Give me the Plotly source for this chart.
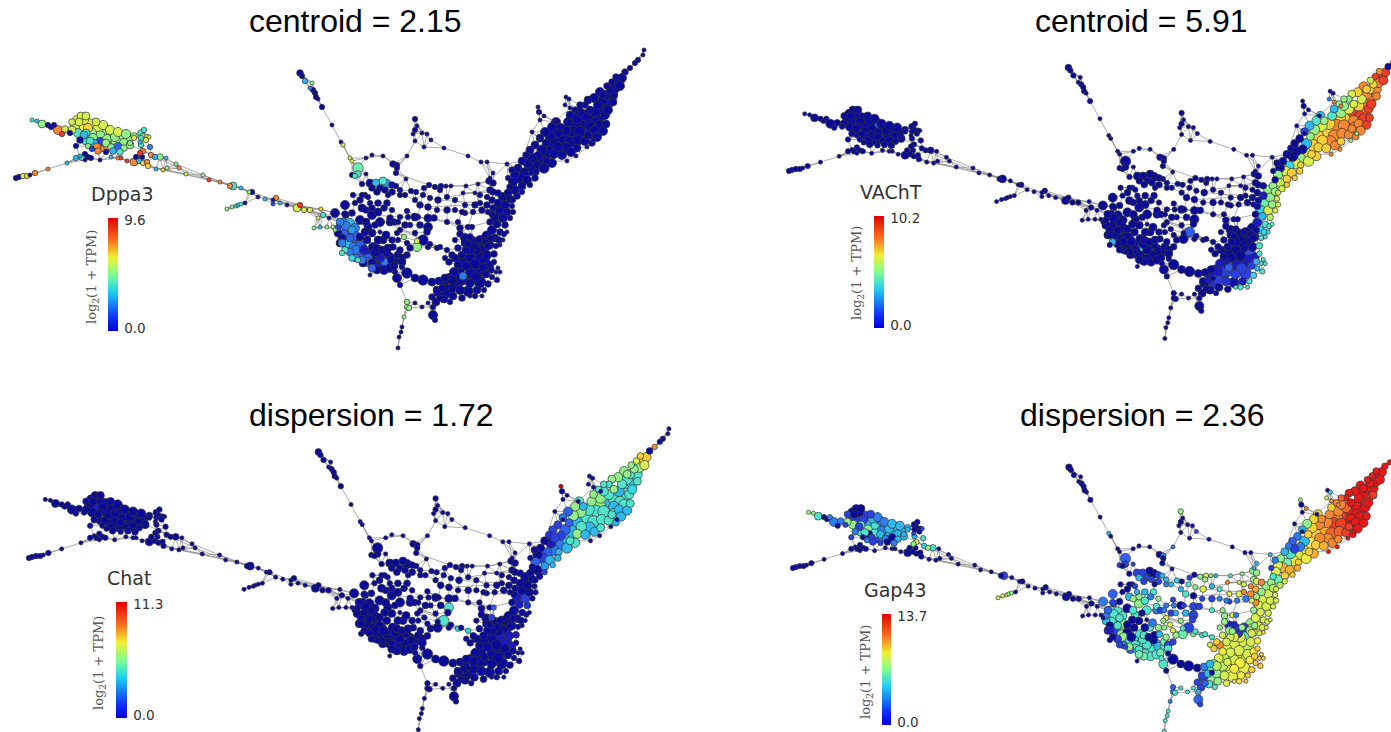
import numpy as np
import plotly.graph_objects as go

# Shared graph layout, in units of the first panel; one inner list per region of the graph
NODE_X = [
 [32,37,42,48,51,54,58,62,65,70],
 [81,77,84,75,82,90,94,72,78,86,92,98,105,111,100,93,107,115,122,128,116,124,130,100,86,80,76,101,94,108,118,111,98,88,92,106,124,130,84,88],
 [80,88,85,85,91,100,111,118,121,127,134,136,142,139,143,147,148,156,163,76,82],
 [144,141,143,147,141,146,149,140,134],
 [141,150,143,151,140,160,155,166,176,167,179,186,203,209,220,233,230,241,252,249,258,265,273,276,280,273,287,297,300,304,310,321,323],
 [227,232,236,238,241,245],
 [16,19,23,27,30,35,48,67],
 [300,302,305,312,310,313,315,316,318,322,332,341,343,350,352],
 [358,358,352,355,372,383,393,397,397,396,366,366,362],
 [370,376,383,387,372,365,380,392,396,406,411,416,424,429,435,441,446,451,466,478,489,493,490,493],
 [415,417,415,413,415,422,427,431,424,407,444,468,481,487,493,507,490],
 [538,539,540,544,555,532,540,566,569,565,570,577,587,576,567,593],
 [644,643,638,635,630,625],
 [622,618,615,620,610,606,612,603,608,603,598,595,600,590,585,590,596,605,585,580,577,583,590,595,575,568,572,565,580,588,560,557,563,570,550,553,546,558,542,548,554,538,532,540,547,535,528,522,530,524,536,518,520,527,515,513,522,510,515,508,503,498,510],
 [505,498,512,500,507,493,495,503,510,497,505,490,492,500,487,495,503],
 [483,474,466,490,496,500,478,487,470,494,483,475,466,490,494,498,478,470,460,486,492,497,462,470,480,488,456,463,452,460,468,477,484,446,453,437,440,470,450,462,455,462,449,458],
 [353,362,345,355,368,370,378,388,387,400,405,415,423,430,428,438,447,463,465,475,480,455,447,473,465,437,428,434,428,447,447,460,460,468,472,470,465,415,418,408,400,407,392,390,394,400,415,423,428,437,407,404,417,417,398],
 [397,407,415,423,432,439,445,447,438,390,398,407,402,395],
 [335,343,350,355,347,338,342,348,345,357,362,367,358,352,358,372,379,385,363,370,377,367,373,382,387,372,380,390,368,372,383,380,377,340,360,342,333,327,320,314,335,329,318,397,393,352,362,375,360,350,365,375,362,346],
 [400,407,407,409,415,422,428,433,433,435,404,402,401,399,398],
 [600,594,588,612,616,607,600,606,603,597,592,590,585,578,577,566,571,562,570,575,580,556,552,545,540,535,530,526,552,544,535,530,512,508,517,522,613,608,603],
 [472,480,465,458,488,468,491,452,445,470,476,462,472,484,454,449,444,476,491,452,458,475,482,444,432,436,443,496,500],
 [492,488,486,513,513,507,499,504,488,478],
 [340,346,352,338,344,350,356,342,348,354,360,350,356,362,368,356,362,368,374,380,364,370,376,382,388,372,378,384,390,394,366,372,378,384,366,378,386,392,398,402],
 [86,96,103,110,118,126,72,79,90,97,106,113,120,134],
 [360,345,377,385,392,400,420,440,455,462,475,482,487,492,480,487,420,410,405,398,430,440,458,455,427,410,400,392,402],
]
NODE_Y = [
 [120,121,124,125,127,125,130,134,129,133],
 [116,120,120,127,126,124,127,130,133,133,133,129,130,134,136,138,139,137,137,139,142,143,145,142,141,140,146,146,143,146,147,147,151,146,149,152,148,143,135,128],
 [156,157,154,160,158,160,157,158,158,161,162,157,157,161,163,162,166,169,170,158,158],
 [130,133,136,137,138,140,137,142,138],
 [145,147,151,155,153,157,157,158,164,168,168,174,175,180,182,186,186,188,192,192,197,199,200,198,203,204,205,208,205,210,210,209,215],
 [209,207,206,205,204,203],
 [178,177,176,176,175,173,169,163],
 [73,76,81,83,88,90,93,97,99,107,125,142,145,158,161],
 [168,174,175,176,155,156,164,165,168,173,158,174,184],
 [183,183,181,184,188,195,188,185,186,179,191,192,188,185,187,186,186,186,186,184,181,183,190,192],
 [119,126,130,134,141,133,134,140,147,156,148,156,162,162,173,164,178],
 [107,112,120,116,122,132,140,97,99,105,108,112,147,156,161,140],
 [50,55,60,63,68,72],
 [78,82,88,86,90,95,95,100,102,108,105,112,115,110,105,118,122,115,115,112,118,123,127,130,125,122,132,130,132,135,127,132,138,142,136,143,143,147,150,152,154,156,158,160,161,165,163,161,170,173,172,168,178,180,175,182,186,187,190,193,197,193,199],
 [205,203,206,210,212,208,217,218,218,224,225,222,230,232,236,238,240],
 [248,246,250,245,246,245,255,255,258,254,262,264,266,265,262,268,272,274,272,274,277,280,280,283,282,284,285,276,288,290,291,290,290,293,296,290,298,296,302,298,258,255,262,265],
 [195,195,205,203,197,203,203,195,203,195,195,200,195,198,207,200,197,193,205,193,203,210,210,212,213,210,218,218,227,222,250,228,234,227,227,237,238,217,217,217,217,211,210,218,222,230,233,240,247,248,243,237,247,241,240],
 [278,273,278,280,282,281,278,287,292,257,260,255,267,272],
 [213,223,223,228,230,233,238,246,250,242,248,253,253,258,260,263,263,263,263,275,270,240,247,253,253,215,222,222,227,233,240,232,248,243,237,253,227,227,227,228,230,218,218,233,247,213,208,225,220,236,232,255,255,215],
 [285,302,307,308,303,307,303,307,315,320,317,327,332,337,348],
 [92,98,100,82,77,86,125,124,131,137,143,134,141,140,148,148,152,155,115,110,105,122,127,132,138,145,150,155,163,168,178,185,170,178,196,192,102,110,95],
 [240,240,243,248,240,244,238,255,258,250,250,262,268,268,272,278,284,277,270,280,280,296,296,299,297,302,288,272,272],
 [200,212,243,212,200,232,240,234,246,240],
 [222,226,230,228,234,238,236,243,243,247,245,252,250,255,258,258,260,262,258,258,250,254,252,250,248,268,267,270,268,266,222,208,212,208,210,240,235,240,255,258],
 [116,122,125,130,132,134,122,122,141,147,143,151,152,136],
 [200,214,192,190,192,190,205,190,200,212,205,210,205,214,195,197,225,225,225,222,244,247,222,240,232,248,250,260,262],
]
NODE_SIZE = [
 [3,3,6,4,4,4,7,4,5,4],
 [6,7,7,7,11,8,9,6,7,6,7,8,9,7,8,7,7,7,10,7,8,7,6,7,6,5,4,9,6,7,7,5,5,4,4,4,5,4,6,7],
 [3,4,4,3,4,3,3,3,3,3,6,4,4,4,4,4,4,3,3,4,4],
 [4,5,4,4,4,4,3,3,4],
 [4,4,4,4,4,5,4,3,3,3,3,3,3,3,3,6,4,3,4,3,3,3,3,4,3,3,3,6,4,4,4,3,4],
 [3,3,3,3,3,3],
 [4,4,4,4,3,4,3,3],
 [5,4,4,3,3,4,4,4,3,4,3,3,3,3,3],
 [8,5,4,4,3,3,5,4,4,4,3,3,4],
 [6,6,6,7,5,4,5,5,4,3,4,4,4,4,4,4,3,3,3,3,5,5,5,5],
 [4,3,4,3,3,3,3,3,3,3,3,3,3,3,3,3,3],
 [3,4,3,3,3,3,3,3,3,3,3,3,3,3,3,3],
 [3,3,4,4,4,5],
 [7,9,8,7,6,7,9,8,10,12,7,8,10,6,5,10,8,7,8,7,9,11,8,7,10,7,10,9,9,6,6,9,10,9,8,10,6,8,8,10,7,7,7,10,6,9,8,6,9,8,5,6,8,7,7,7,6,5,7,6,7,5,6],
 [7,6,4,8,6,5,7,7,4,6,5,5,7,5,8,6,3],
 [9,7,6,6,4,3,8,7,8,5,11,8,7,6,4,3,9,8,7,6,4,4,8,7,9,5,9,6,7,7,8,6,4,8,6,6,5,3,4,5,6,6,5,6],
 [4,4,7,4,4,4,5,4,5,4,4,4,4,4,5,5,4,3,4,3,4,4,5,4,4,4,6,5,7,4,4,5,5,4,4,5,7,6,4,4,4,4,4,5,5,4,4,8,4,4,4,4,7,4,4],
 [7,8,6,8,6,6,6,4,7,7,6,5,4,4],
 [7,8,7,7,7,6,6,8,5,7,8,8,7,5,4,6,9,7,6,3,6,6,7,8,6,7,7,6,6,6,6,3,6,6,6,4,3,3,3,3,3,3,3,4,5,5,6,5,7,7,6,7,7,5],
 [4,4,4,4,3,3,3,4,7,4,3,3,3,3,3],
 [7,7,6,5,5,5,8,6,7,7,5,8,7,8,6,9,7,7,6,5,5,7,7,7,6,6,6,5,7,8,5,4,5,4,5,4,6,7,6],
 [6,7,6,5,6,5,5,5,4,7,8,8,9,8,7,7,7,8,5,7,8,4,3,6,5,6,6,3,3],
 [5,4,6,4,4,3,5,4,6,5],
 [6,7,6,5,7,6,7,6,7,7,7,6,7,7,7,6,6,7,8,7,7,8,7,6,6,6,7,7,7,6,6,5,6,5,5,6,6,5,6,6],
 [6,6,7,7,7,7,5,6,6,6,6,5,5,5],
 [5,5,5,5,5,4,5,4,4,4,5,5,5,5,4,4,5,4,5,4,4,4,4,4,5,5,5,7,6],
]

# Expression per node, on a 0-10 share of each gene's maximum
DPPA3 = [
 [4,3,5,0,0,0,8,9,6,0],
 [6,6,6,6,6.5,6,6,6,4,4,5,6,5,5,5,5,5,5,5,5,5,5,5,1,4,0,0,8,3,8,1.5,5,8,5,1,0,5,5,3,7],
 [3,0,0,0,0,0,3,8,9,9,8,0,0,3,7,8,7,3,7,3,4],
 [4,4,5,6,4,6,6,3,6],
 [4,2,8,8,9,5,3,3,5,5,8,6,5,9,8,4,8,3,0,5,0,3,0,8,3,1,0,6,9,6,6,7,4],
 [5,5,4,3,4,0],
 [0,0,6,7,0,8,8,3],
 [0,0,3,5,2,0,0,0,0,0,0,0,6,6,6],
 [4.5,4,0,4,0,0,0,0,0,0,0,0,0],
 [0,3,4,2.5]+[0]*20,
 [0]*17,
 [0]*16,
 [0]*6,
 [0]*63,
 [0]*17,
 [0]*27+[2]+[0]*16,
 [0]*51+[5,5,6,0],
 [0]*14,
 [0,2,3,2,2,0,0,3.5,4,1.5,2,1.5,1,3.5,4,0,2,2,0,0,0,0,0,0,0,0,0,0,0,0,0,0,0,0,0,4,5,5,3,5,5,0,6,0,0,0,0,0,0,0,0,0,0,0],
 [0,5,5,5,0,0,0,0,0,0,5,0,0,0,0],
 [0]*39,
 [0]*29,
 [0]*10,
 [2,2,2.5,1,1.5,1.5,1.5,2,3,2,1.5,2,2,1.5,1.5,2,2,1.5,1,0.5,0.5,0.5,0,0,0,1.5,0.5,0,0,0]+[0]*10,
 [6,6,6,6,6,5,6,6,4,8,5,3,4,5],
 [0]*29,
]
VACHT = [
 [0]*10,
 [0]*12+[1.5]+[0]*27,
 [0]*21,
 [0]*9,
 [0]*33,
 [0]*6,
 [0]*8,
 [0]*15,
 [0]*13,
 [0]*24,
 [0]*17,
 [0,0,0,0,0,0,0,0,0,2,8,8,5,8,8,5],
 [0]*6,
 [9,9,8,9,7,7,8,8,8,8,6,7,8,6,5,9,9,9,6,5,5,7,8,8,7,4,8,7,8,8,5,6,7,8,5,7,5,7,3,7,7,0,0,6,7,5,0,0,6,3.5,7,0,6,7,0,5,7,0,5.5,5,5,0,5],
 [5,0.5,6,4.5,5,0,3.5,6,6,3,5.5,0,0.5,4,0,3.5,4],
 [0,0,0,0.5,4,4,0,0,0,4,1.2,0,0,0.5,4,4,0.5,0.5,0.3,1,3,4,1,1,1,3.5,0.8,1.5,1,0.8,0.2,0.5,4,0.8,0,0,0,4,0,0,0,0,0,0],
 [0]*47+[1.5]+[0]*7,
 [0]*14,
 [0]*7+[1.2,3]+[0]*7+[3.5]+[0]*34+[3.5]+[0]*2,
 [0]*15,
 [8,7,6,9,8,6,9,9,9,8,8,8,8,8,7,8,8,7,3,5,5,3,4,3,1,0,0,0,7,6,7,7,0,0,6,7,8,9,7],
 [0,0,0,0,0.5,0,0,0,0,0,0,0,0.5,0.5,0.5,0.5,0.5,1,3,0.5,1,4,4,0,0,0,0.5,4,4],
 [0,0,0,6,6,4.5,3.5,4,0,0],
 [0]*40,
 [0]*14,
 [0]*29,
]
CHAT = [
 [0]*10,
 [0,0,0,0,0.6]+[0]*35,
 [0]*21,
 [0]*9,
 [0]*33,
 [0]*6,
 [0]*8,
 [0]*15,
 [0]*13,
 [0]*24,
 [0]*17,
 [10]+[0]*15,
 [0,0,0,0,8,0],
 [7,7,5,6,5,4,4,4,3.5,3.5,4,3,4,5,4,4,4,4,4,4,5,3,3,3,5,5,4,4,4,4,3,5,4,4,5,3,1.5,4,1.5,3,5,1,1,3,4,2,0.5,0,2,1.5,3,0,1,3,0,1.5,2.5,0,0,0,0,0,0],
 [0,0,0,0,0,0,0.5,1,0,0.5,0.8,0,0,0,0,0,0],
 [0,0,0,0,0,0,0.5,0.5,0,0.5,0.5,0,0,0.5,0,0]+[0]*28,
 [0]*28+[4,0,3.5,0,0,0,1.5,1]+[0]*11+[4,0,3.5]+[0]*5,
 [0]*14,
 [0]*54,
 [0]*15,
 [5,5,5,6,7,5,4,4,3,3,3,4,4,4,4,3,3,3,5,4,4,4,5,1.5,2,1,1,0.8,4,3,3,3,0,0,0,1,4,3.5,5],
 [0]*29,
 [0]*10,
 [0]*40,
 [0]*14,
 [0]*29,
]
GAP43 = [
 [5,5,4,0,0,2,2,0,2,1],
 [0,0,0,1,1,1,2,5,5,4,3,3,2,3,4,5,2,3,3,3,3,3,3,4,4,2,1,1,0,2,0,2,1,0,2,1,3,3,1,1],
 [0]*21,
 [0,0,0,0,0,0,1,1,3],
 [3,4,6,3.5,5,4,5,0,0,0,0,0,0,0,0,1]+[0]*17,
 [6,6,6,5,5,0],
 [0]*8,
 [0,0,0,0,0,0,0,0,0,0,0,3,0,0,0],
 [1.5,1,1,0,0,0,0,2,0,0,0,1,0],
 [1,1,0,0,3,0,1,1,3,0,3.5,0,1,0,5,6,5,3,4,5,5,5,5,6],
 [5,0,0,0,0,0,0,1,0,2,0,0,0,0,3,3,3],
 [5,0,0,8,0,0,0,0,3.5,6,8,8,9.5,9.5,9.5,9.5],
 [9.5]*6,
 [9.5,9.5,9.5,9.5,9.5,9.5,9.5,9.5,9,9,9.5,9.5,9.5,9.5,9.5,9.5,9.5,9.5,8.5,8,8,9,9.5,9.5,8,8,9,8,9,9,8,8,7.5,8.5,7,7,7,8,3,6.5,7,2,1,6,7,6,4,3,6.5,4.5,7,5,7.5,7.5,6,6,7,4,4.5,5,5,8,5.5],
 [6,5,6,6,6,5,6,6,6,6,6,5,6,6,5,6,6],
 [4,0.8,6,6,6,7,6,6,6,6.5,5.5,6,6,6.5,7,7,6,6,5.5,6.5,7,7,6.5,6.5,6.2,7,5,6,5,6,6.2,6.5,7,5,5,1,1.5,6.5,4,6,8,6,7,6.5],
 [0,0,1.5,0,1,3,3,0,4,2,3,3,4,5,0,6,3,8,6,6,8,2,1,2,1,1,1,1,1,4,4,5,5,6,2,0.6,0.6,0,1,2,2,1,5,4,1,6,5,1,4.5,4,6,6,4.5,4,5],
 [4,0,0,0,0,2,3,0,1,3,4,1,0,4],
 [2,4,4,4,4,3,0,1,0,5,5,4,5,1,1,4,2.5,4,1.5,0,4.5,0,4,4,0,5,4,2,4,0,4,0,4,0.5,0,0,0,0,0,0,0,0,0,5,3,0,3,0,0,0,0,4,4.5,1],
 [0,1.5,2,4,4,4,4,3,1.5,1,2,4,4,4,4],
 [9.5,9.5,9.5,9.5,9.5,9.5,9.5,9.5,9.5,9.5,9.5,9.5,9,8.5,8,8,8,7.5,7,8,8.5,7,7,5,3,2,1.5,2,7.5,6.5,7.5,7,2,1,5.5,6,9,9.5,9.5],
 [0.8,0.8,5,6,6,5,5,7,6,6,6,6,6,6,6,5,4.5,6.5,7,5.5,5.5,6.5,7,4,1,1,3,7,7],
 [7.5,6,5,6,6,6,6,6,6,5],
 [1.5,4,4,2,4,4,5,0.5,1,5,0,1,5,4,4,2,5,4,4,4,0,4,4,0,0,4.5,4,4,4,4.5,4,5,4,2,5,0,2,5,4.5,1],
 [0,1,2,2,3,3,1,0,4,1,3,0,2,3],
 [0,1,1,1,1,3,4,5,4,2,6,2,8,8,6,8,3,3,1,2,4,4,5,5,1,5,5,3,4],
]

# Longer graph links, chains of layout positions (each snaps to its closest node)
LONG_LINKS = [
 [(130,145),(176,164),(203,175),(233,186),(252,192),(273,200),(300,205),(323,215)],
 [(143,151),(179,168),(209,180),(233,186)],
 [(148,166),(186,174),(220,182),(241,188),(258,197)],
 [(163,170),(209,180)],
 [(134,162),(163,170),(186,174)],
 [(16,178),(35,173),(48,169),(67,163),(80,157),(100,160),(118,158),(134,162)],
 [(276,198),(300,205),(335,213)],
 [(273,200),(310,210),(343,223)],
 [(287,205),(321,209),(335,213)],
 [(297,208),(323,215),(350,223)],
 [(280,203),(304,210),(343,223)],
 [(245,203),(258,197),(241,188)],
 [(322,107),(332,125),(341,142),(350,158),(358,168)],
 [(358,168),(366,158),(372,155),(383,156),(393,164),(396,173),(406,179)],
 [(407,156),(415,141),(424,147),(444,148),(468,156),(481,162),(487,162),(507,164),(522,161)],
 [(397,168),(407,156)],
 [(396,173),(429,185),(466,186),(489,181),(507,164)],
 [(431,140),(444,148)],
 [(540,140),(528,163)],
 [(532,132),(540,120),(555,122),(570,108)],
 [(532,132),(522,161)],
 [(540,140),(532,132)],
 [(593,140),(587,147),(576,156),(567,161),(547,161)],
 [(478,184),(490,190),(498,193)],
 [(463,193),(493,192)],
 [(428,207),(465,205),(498,203)],
 [(415,217),(447,222),(468,227),(490,222)],
 [(400,230),(447,250),(474,246)],
 [(390,222),(423,240)],
 [(402,267),(400,285),(407,302),(404,317),(402,327),(401,332),(399,337),(398,348)],
 [(433,307),(438,292)],
 [(428,303),(433,315)],
 [(447,197),(490,190)],
 [(438,200),(480,203)],
 [(394,222),(428,227)],
 [(372,215),(400,217),(428,218)],
 [(392,210),(387,203),(378,203)],
 [(400,230),(415,233),(423,240)],
 [(460,228),(470,237),(474,246)],
 [(465,213),(492,214)],
 [(473,212),(468,227)],
 [(490,222),(492,230)],
 [(390,218),(407,243),(437,248)],
 [(404,237),(447,250)],
]

PANEL_GENES = ["Dppa3", "VAChT", "Chat", "Gap43"]
PANEL_TITLES = ["centroid = 2.15", "centroid = 5.91", "dispersion = 1.72", "dispersion = 2.36"]
PANEL_MAX = [9.6, 10.2, 11.3, 13.7]
NODE_SCALE = [[0,'#0a0a9a'],[0.05,'#1a1ac0'],[0.12,'#3050f0'],[0.25,'#2a9af0'],[0.35,'#30d8e8'],[0.45,'#70f0b0'],
              [0.55,'#b8f060'],[0.65,'#f5ee40'],[0.75,'#fab030'],[0.85,'#f86030'],[0.95,'#e81818'],[1,'#c00000']]
BAR_SCALE = [[0,'#0000e0'],[0.12,'#1030ff'],[0.35,'#20d0f0'],[0.5,'#80ff90'],[0.65,'#f0f030'],[0.8,'#ff7020'],[1,'#e00000']]

W, H = 1391, 732
# panel placement: scale and origin of the layout, window in pixels
PANELS = [
 dict(ax=1.0,  x0=15, px=15,  ay=1.0,  y0=178, py=178, box=(0,700,40,372),   title=(355,21),  gene=(122,194), bar=(108,118,218,331), rot=(92,277)),
 dict(ax=0.984,x0=15, px=788, ay=0.985,y0=178, py=171, box=(760,1391,40,360),title=(1141,21), gene=(891,192), bar=(874,884,216,328), rot=(857,273)),
 dict(ax=1.019,x0=15, px=28,  ay=1.01, y0=178, py=558, box=(0,720,420,732),  title=(371,415), gene=(128.5,578),bar=(116,127,602,718),rot=(99,663)),
 dict(ax=0.972,x0=15, px=792, ay=0.96, y0=178, py=568, box=(770,1391,440,732),title=(1142,415),gene=(895,590), bar=(882,891,614,725),rot=(866,672)),
]

parts = [NODE_X, NODE_Y, NODE_SIZE, DPPA3, VACHT, CHAT, GAP43]
for r in range(len(NODE_X)):
    lens = [len(p[r]) for p in parts]
    assert len(set(lens)) == 1, (r, lens)
flat = lambda p: np.array([v for row in p for v in row], float)
X, Y, S = flat(NODE_X), flat(NODE_Y), flat(NODE_SIZE)
VALUES = [flat(DPPA3), flat(VACHT), flat(CHAT), flat(GAP43)]

# edges: close neighbours plus the long links
pairs = set()
D = np.hypot(X[:, None]-X[None, :], Y[:, None]-Y[None, :])
for i in range(len(X)):
    for j in np.argsort(D[i])[1:5]:
        if D[i, j] < 19:
            pairs.add((min(i, int(j)), max(i, int(j))))
for chain in LONG_LINKS:
    ids = [int(np.argmin(np.hypot(X-a, Y-b))) for a, b in chain]
    for a, b in zip(ids[:-1], ids[1:]):
        if a != b:
            pairs.add((min(a, b), max(a, b)))
EX, EY = [], []
for a, b in sorted(pairs):
    EX += [X[a], X[b], None]
    EY += [Y[a], Y[b], None]

order = np.argsort(-S, kind="stable")
fig = go.Figure()
layout = dict(width=W, height=H, margin=dict(l=0, r=0, t=0, b=0, autoexpand=False), paper_bgcolor="white",
              plot_bgcolor="white", showlegend=False, annotations=[])
for k, P in enumerate(PANELS):
    s = "" if k == 0 else str(k+1)
    xa, ya = "x"+s, "y"+s
    l, r, t, b = P["box"]
    to_x = lambda p: (p-P["px"])/P["ax"]+P["x0"]
    to_y = lambda p: (p-P["py"])/P["ay"]+P["y0"]
    layout["xaxis"+s] = dict(domain=[l/W, r/W], range=[to_x(l), to_x(r)], visible=False, anchor=ya)
    layout["yaxis"+s] = dict(domain=[1-b/H, 1-t/H], range=[to_y(b), to_y(t)], visible=False, anchor=xa)
    fig.add_trace(go.Scatter(x=EX, y=EY, mode="lines", xaxis=xa, yaxis=ya, hoverinfo="skip",
                             line=dict(color="#8a8a8a", width=0.7)))
    fig.add_trace(go.Scatter(x=X[order], y=Y[order], mode="markers", xaxis=xa, yaxis=ya,
                             marker=dict(size=(S[order]*1.25+0.4)*(P["ax"]+1)/2, color=VALUES[k][order], cmin=0, cmax=10,
                                         colorscale=NODE_SCALE, line=dict(color="#33333a", width=0.7), opacity=1)))
    bl, br, bt, bb = P["bar"]
    mx = PANEL_MAX[k]
    fig.add_trace(go.Scatter(x=[-9999, -9999], y=[-9999, -9999], mode="markers", xaxis=xa, yaxis=ya,
                             marker=dict(size=1, color=[0, mx], cmin=0, cmax=mx, colorscale=BAR_SCALE,
                                         colorbar=dict(x=bl/W, xanchor="left", xpad=0, y=1-bb/H, yanchor="bottom", ypad=0,
                                                       len=(bb-bt)/H, lenmode="fraction", thickness=br-bl,
                                                       thicknessmode="pixels", outlinewidth=0, borderwidth=0,
                                                       ticks="outside", ticklen=4, tickcolor="rgba(0,0,0,0)",
                                                       tickvals=[0.027*mx, 0.982*mx], ticktext=["0.0", f"{mx:.1f}"],
                                                       tickfont=dict(family="DejaVu Sans", size=13.5, color="#333333")))))
    layout["annotations"] += [
        dict(x=P["title"][0]/W, y=1-P["title"][1]/H, xref="paper", yref="paper", text=PANEL_TITLES[k], showarrow=False,
             font=dict(family="Liberation Sans", size=32, color="#000000"), xanchor="center", yanchor="middle"),
        dict(x=P["gene"][0]/W, y=1-P["gene"][1]/H, xref="paper", yref="paper", text=PANEL_GENES[k], showarrow=False,
             font=dict(family="DejaVu Sans", size=19, color="#333333"), xanchor="center", yanchor="middle"),
        dict(x=P["rot"][0]/W, y=1-P["rot"][1]/H, xref="paper", yref="paper", text="log<sub>2</sub>(1 + TPM)", showarrow=False,
             textangle=-90, font=dict(family="DejaVu Serif", size=13, color="#555555"), xanchor="center", yanchor="middle"),
    ]
fig.update_layout(**layout)
fig.write_html("out.html", config={"displayModeBar": False},
               post_script="document.body.style.margin='0';document.body.style.overflow='hidden';")
